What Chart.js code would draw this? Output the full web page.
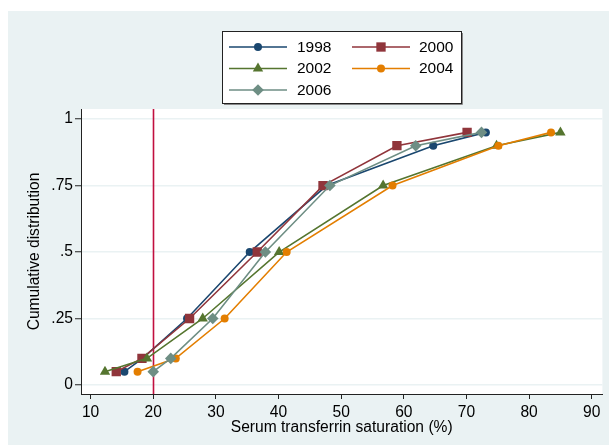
<!DOCTYPE html>
<html>
<head>
<meta charset="utf-8">
<script src="https://cdn.jsdelivr.net/npm/chart.js@4/dist/chart.umd.min.js"></script>
<style>
  html, body { margin: 0; padding: 0; background: #ffffff; }
  #c { display: block; }
</style>
</head>
<body>
<canvas id="c" width="609" height="445"></canvas>
<script>
// ---- data ----
const quantiles = [0.05, 0.10, 0.25, 0.50, 0.75, 0.90, 0.95];
const years = ['1998', '2000', '2002', '2004', '2006'];
const s1998 = [15.4, 18.3, 25.4, 35.4, 47.7, 64.7, 73.1];
const s2000 = [14.1, 18.2, 25.8, 36.6, 47.1, 58.9, 70.1];
const s2002 = [12.3, 19.0, 27.9, 40.1, 56.7, 74.8, 85.0];
const s2004 = [17.5, 23.6, 31.4, 41.3, 58.2, 75.1, 83.5];
const s2006 = [20.0, 22.8, 29.5, 37.9, 48.2, 61.9, 72.4];
const xTicks = [10, 20, 30, 40, 50, 60, 70, 80, 90];
const yTicks = [0, 0.25, 0.5, 0.75, 1];
const yTickLabels = ['0', '.25', '.5', '.75', '1'];
const refLineX = 20;
const xTitle = 'Serum transferrin saturation (%)';
const yTitle = 'Cumulative distribution';

// ---- styles ----
const FONT = '"Liberation Sans", Arial, Helvetica, sans-serif';
const AXIS_FONT = 15.6;
const seriesValues = [s1998, s2000, s2002, s2004, s2006];
const colors = ['#1a476f', '#90353b', '#55752f', '#e37e00', '#6e8e84'];
const styles = ['circle', 'rect', 'triangle', 'circle', 'rectRot'];
const radii = [4, 6.6, 6, 4, 5.8];

const datasets = years.map((y, i) => ({
  label: y,
  data: seriesValues[i].map((v, j) => ({ x: v, y: quantiles[j] })),
  showLine: true,
  borderColor: colors[i],
  backgroundColor: colors[i],
  borderWidth: 1.6,
  pointStyle: styles[i],
  pointRadius: radii[i],
  pointHoverRadius: radii[i],
  pointBackgroundColor: colors[i],
  pointBorderColor: colors[i],
  pointBorderWidth: 0,
  tension: 0,
  order: years.length - i
}));

const bgPlugin = {
  id: 'bg',
  beforeDraw(chart) {
    const { ctx, chartArea: a } = chart;
    ctx.save();
    ctx.fillStyle = '#ffffff';
    ctx.fillRect(0, 0, chart.width, chart.height);
    ctx.fillStyle = '#eaf2f3';
    ctx.fillRect(8, 11, chart.width - 8, chart.height - 11);
    ctx.fillStyle = '#ffffff';
    ctx.fillRect(a.left, a.top, a.right - a.left, a.bottom - a.top);
    ctx.restore();
  },
  beforeDatasetsDraw(chart) {
    const { ctx, chartArea: a, scales } = chart;
    const x = Math.round(scales.x.getPixelForValue(refLineX)) + 0.5;
    ctx.save();
    ctx.strokeStyle = '#c10f3f';
    ctx.lineWidth = 1.6;
    ctx.beginPath();
    ctx.moveTo(x, a.top);
    ctx.lineTo(x, a.bottom);
    ctx.stroke();
    ctx.restore();
  },
  afterDraw(chart) {
    const ctx = chart.ctx;
    const box = { l: 222, t: 31, r: 462, b: 104 };
    ctx.save();
    ctx.fillStyle = '#ffffff';
    ctx.fillRect(box.l, box.t, box.r - box.l, box.b - box.t);
    ctx.strokeStyle = '#222222';
    ctx.lineWidth = 1;
    ctx.strokeRect(box.l + 0.5, box.t + 0.5, box.r - box.l - 1, box.b - box.t - 1);
    ctx.strokeStyle = '#888888';
    ctx.beginPath();
    ctx.moveTo(box.r + 0.5, box.t + 2);
    ctx.lineTo(box.r + 0.5, box.b + 0.5);
    ctx.lineTo(box.l + 2, box.b + 0.5);
    ctx.stroke();
    const cols = [{ l0: 229, l1: 287, txt: 297 }, { l0: 352, l1: 410, txt: 419 }];
    const rows = [47, 68.5, 90];
    chart.data.datasets.forEach((ds, i) => {
      const c = cols[i % 2];
      const y = rows[Math.floor(i / 2)];
      ctx.strokeStyle = ds.borderColor;
      ctx.lineWidth = 1.6;
      ctx.beginPath();
      ctx.moveTo(c.l0, y);
      ctx.lineTo(c.l1, y);
      ctx.stroke();
      const mx = (c.l0 + c.l1) / 2;
      ctx.save();
      ctx.fillStyle = ds.pointBackgroundColor;
      ctx.strokeStyle = ds.pointBorderColor;
      Chart.helpers.drawPoint(ctx, {
        pointStyle: ds.pointStyle,
        radius: ds.pointRadius,
        rotation: 0,
        borderWidth: 0
      }, mx, y);
      ctx.restore();
      ctx.fillStyle = '#000000';
      ctx.font = '15.5px ' + FONT;
      ctx.textBaseline = 'middle';
      ctx.textAlign = 'left';
      ctx.fillText(ds.label, c.txt, y + 0.5);
    });
    ctx.restore();
  }
};

new Chart(document.getElementById('c'), {
  type: 'scatter',
  data: { datasets },
  options: {
    responsive: false,
    animation: false,
    devicePixelRatio: 1,
    layout: { padding: { left: 0, right: 6, top: 109, bottom: 0 } },
    plugins: { legend: { display: false }, tooltip: { enabled: false } },
    scales: {
      x: {
        type: 'linear',
        min: 8.47,
        max: 91.7,
        afterBuildTicks(s) { s.ticks = xTicks.map(v => ({ value: v })); },
        afterFit(s) { s.height = 51; },
        grid: { display: true, drawOnChartArea: false, drawTicks: true, tickLength: 5, tickColor: '#222222', tickWidth: 1 },
        border: { display: true, color: '#222222', width: 1 },
        ticks: { color: '#000000', font: { family: FONT, size: AXIS_FONT }, padding: 4, maxRotation: 0, autoSkip: false },
        title: { display: true, text: xTitle, color: '#000000', font: { family: FONT, size: AXIS_FONT }, padding: { top: 0, bottom: 8 } }
      },
      y: {
        type: 'linear',
        min: -0.034,
        max: 1.038,
        afterBuildTicks(s) { s.ticks = yTicks.map(v => ({ value: v })); },
        afterFit(s) { s.width = 81; },
        grid: { display: true, drawOnChartArea: true, drawTicks: true, tickLength: 6, color: '#eaf2f3', lineWidth: 1.5, tickColor: '#222222', tickWidth: 1 },
        border: { display: true, color: '#222222', width: 1 },
        ticks: {
          color: '#000000', font: { family: FONT, size: AXIS_FONT }, padding: 2, autoSkip: false,
          callback(v) { const k = yTicks.indexOf(v); return k >= 0 ? yTickLabels[k] : ''; }
        },
        title: { display: true, text: yTitle, color: '#000000', font: { family: FONT, size: AXIS_FONT }, padding: { top: 25, bottom: 0 } }
      }
    }
  },
  plugins: [bgPlugin]
});
</script>
</body>
</html>
